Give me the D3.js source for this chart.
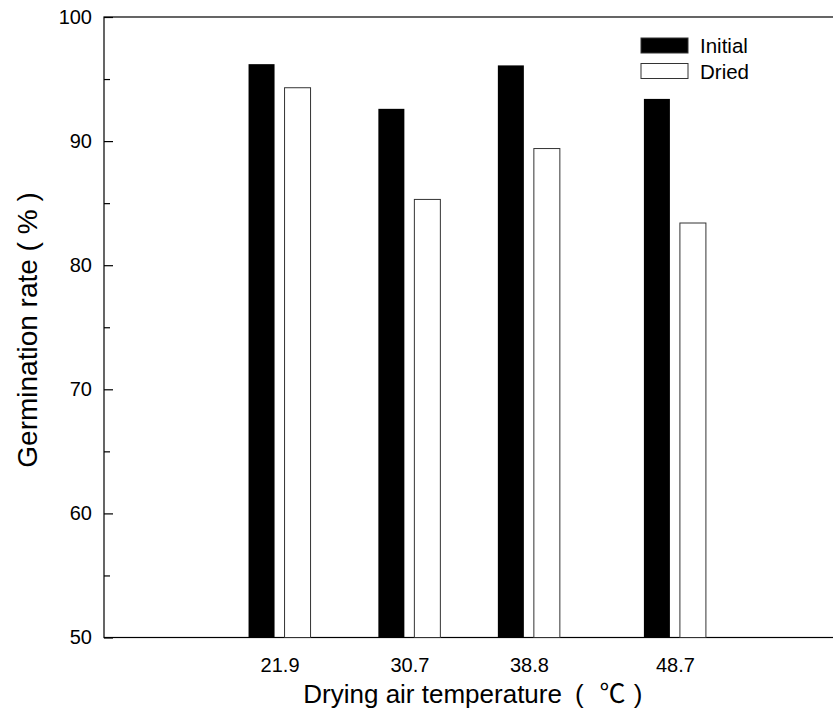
<!DOCTYPE html>
<html>
<head>
<meta charset="utf-8">
<script src="https://cdn.jsdelivr.net/npm/d3@7/dist/d3.min.js"></script>
<style>
  html, body { margin: 0; padding: 0; background: #fff; }
  svg { display: block; font-family: Arial, "Liberation Sans", sans-serif; }
</style>
</head>
<body>
<svg id="chart" width="833" height="727"></svg>
<script>
// Drying air temperatures (°C) and germination rates (%)
const temps = [21.9, 30.7, 38.8, 48.7];
const initialRate = [96.2, 92.6, 96.1, 93.4];
const driedRate = [94.3, 85.3, 89.4, 83.4];
const seriesNames = ["Initial", "Dried"];
const yMajorTicks = [50, 60, 70, 80, 90, 100];
const yMinorTicks = [55, 65, 75, 85, 95];

const svg = d3.select("#chart");
const baseFont = "Arial, 'Liberation Sans', sans-serif";

const plotLeft = 104, plotRight = 841.6, plotTop = 17, plotBottom = 637.5;

const x = d3.scaleLinear().domain([10, 60]).range([plotLeft, plotRight]);
const y = d3.scaleLinear().domain([50, 100]).range([plotBottom, plotTop]);

const barW = 26, innerGap = 5;

// frame
svg.append("rect")
  .attr("x", plotLeft).attr("y", plotTop)
  .attr("width", plotRight - plotLeft).attr("height", plotBottom - plotTop)
  .attr("fill", "none").attr("stroke", "#000").attr("stroke-width", 1.2);

// bars
const g = svg.append("g");
g.selectAll("rect.initial").data(temps).join("rect")
  .attr("class", "initial")
  .attr("x", (d) => x(d) - innerGap - barW)
  .attr("y", (d, i) => y(initialRate[i]))
  .attr("width", barW)
  .attr("height", (d, i) => y(50) - y(initialRate[i]))
  .attr("fill", "#000");

g.selectAll("rect.dried").data(temps).join("rect")
  .attr("class", "dried")
  .attr("x", (d) => x(d) + innerGap)
  .attr("y", (d, i) => y(driedRate[i]))
  .attr("width", barW)
  .attr("height", (d, i) => y(50) - y(driedRate[i]))
  .attr("fill", "#fff").attr("stroke", "#333").attr("stroke-width", 1);

// y axis ticks (inward) and labels
const yAxis = d3.axisLeft(y).tickValues(yMajorTicks).tickSize(-9).tickPadding(12).tickFormat(d3.format("d"));
const ya = svg.append("g").attr("transform", `translate(${plotLeft},0)`).call(yAxis);
ya.select(".domain").remove();
ya.selectAll("line").attr("stroke", "#000").attr("stroke-width", 1.2);
ya.selectAll("text").attr("font-size", 20).attr("fill", "#000").attr("font-family", baseFont);

const yMinor = d3.axisLeft(y).tickValues(yMinorTicks).tickSize(-6).tickFormat("");
const ym = svg.append("g").attr("transform", `translate(${plotLeft},0)`).call(yMinor);
ym.select(".domain").remove();
ym.selectAll("line").attr("stroke", "#000").attr("stroke-width", 1.2);

// x axis labels (no tick marks)
const xAxis = d3.axisBottom(x).tickValues(temps).tickSize(0).tickPadding(20).tickFormat(d3.format(".1f"));
const xa = svg.append("g").attr("transform", `translate(0,${plotBottom})`).call(xAxis);
xa.select(".domain").remove();
xa.selectAll("text").attr("font-size", 20).attr("fill", "#000").attr("font-family", baseFont);

// axis titles
const xTitle = svg.append("text")
  .attr("x", (plotLeft + plotRight) / 2).attr("y", 703)
  .attr("text-anchor", "middle")
  .attr("font-size", 26);
xTitle.append("tspan").text("Drying air temperature");
xTitle.append("tspan").attr("dx", 13).text("(");
xTitle.append("tspan").attr("dx", 16)
  .attr("font-family", "'Noto Sans CJK KR', 'Noto Sans CJK SC', sans-serif")
  .text("℃");
xTitle.append("tspan").attr("dx", 8).text(")");

svg.append("text")
  .attr("transform", "translate(37,330) rotate(-90)")
  .attr("text-anchor", "middle")
  .attr("font-size", 28)
  .text("Germination rate ( % )");

// legend
const legend = svg.append("g");
const legendFill = ["#000", "#fff"];
seriesNames.forEach((name, i) => {
  const ly = 38 + i * 25.5;
  legend.append("rect")
    .attr("x", 641).attr("y", ly)
    .attr("width", 47).attr("height", 15)
    .attr("fill", legendFill[i]).attr("stroke", "#333").attr("stroke-width", 1);
  legend.append("text")
    .attr("x", 700).attr("y", ly + 15)
    .attr("font-size", 20.5)
    .text(name);
});
</script>
</body>
</html>
